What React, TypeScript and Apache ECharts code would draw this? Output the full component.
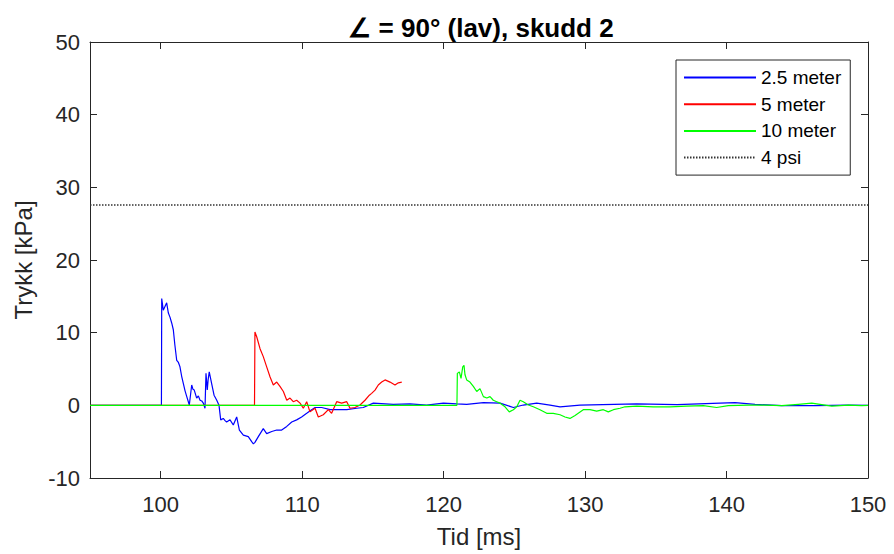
import React, { useEffect, useRef } from "react";
import * as echarts from "echarts";

const xTicks = [100, 110, 120, 130, 140, 150];
const psiLevel = 27.58;

const blue25: number[][] = [
  [95, 0], [100.05, 0], [100.07, 14.7], [100.18, 13.1], [100.3, 13.6], [100.42, 14.1], [100.54, 12.7], [100.66, 12.1],
  [100.78, 11.3], [100.89, 10.4], [101.0, 8.3], [101.13, 6.2], [101.25, 5.9], [101.36, 5.3], [101.48, 4.0], [101.6, 3.0],
  [101.72, 2.0], [101.84, 1.2], [102.02, 0.04], [102.19, 2.8], [102.28, 2.2], [102.37, 2.1], [102.54, 1.0], [102.66, 1.3],
  [102.78, 0.7], [102.9, 0.6], [103.01, 0.3], [103.13, -0.4], [103.2, 4.4], [103.29, 2.1], [103.35, 3.5], [103.43, 4.6],
  [103.6, 3.0], [103.77, 1.4], [103.96, 0.7], [104.12, 0], [104.24, -2.0], [104.42, -1.8], [104.55, -2.1], [104.66, -2.3],
  [104.9, -2.0], [105.13, -2.7], [105.37, -1.6], [105.56, -3.4], [105.84, -4.1], [106.19, -4.3], [106.43, -5.0],
  [106.55, -5.3], [106.66, -5.1], [106.9, -4.3], [107.25, -3.2], [107.49, -3.9], [107.85, -3.6], [108.2, -3.4],
  [108.55, -3.4], [108.91, -2.9], [109.26, -2.3], [109.61, -2.0], [109.96, -1.6], [110.32, -1.1], [110.67, -0.6],
  [110.91, -0.3], [111.38, -0.3], [111.97, -0.6], [112.44, -0.6], [113.15, -0.6], [113.85, -0.4], [114.32, -0.3],
  [115.03, 0.3], [116.44, 0.14], [117.62, 0.2], [118.8, 0.04], [119.98, 0.3], [120.93, 0.2], [121.63, 0.14],
  [122.81, 0.36], [123.99, 0.3], [124.93, -0.3], [125.63, 0.04], [126.58, 0.3], [127.52, 0.04], [128.23, -0.2],
  [129.64, 0.04], [133.65, 0.2], [136.5, 0.1], [139.54, 0.3], [140.6, 0.36], [142.01, 0.14], [143.9, -0.05],
  [146.26, -0.05], [148.61, 0.04], [150, 0],
];

const red5: number[][] = [
  [95, 0], [106.63, 0], [106.66, 10.1], [106.79, 9.4], [107.02, 7.8], [107.25, 6.7], [107.49, 5.3], [107.73, 3.9],
  [107.96, 2.8], [108.2, 3.2], [108.43, 2.6], [108.67, 1.9], [108.91, 0.7], [109.14, 1.0], [109.37, 0.5], [109.61, 0.7],
  [109.85, 0.3], [110.08, -0.4], [110.32, 0.5], [110.55, -0.9], [110.91, -0.4], [111.14, -1.6], [111.49, -1.3],
  [111.85, -0.6], [112.08, -1.1], [112.44, 0.5], [112.79, 0.3], [113.15, 0.5], [113.38, -0.4], [113.73, -0.3],
  [114.09, 0.04], [114.44, 0.7], [114.75, 1.4], [114.91, 1.65], [115.15, 2.1], [115.38, 2.8], [115.62, 3.2],
  [115.86, 3.5], [116.21, 3.2], [116.56, 2.8], [116.8, 3.1], [117.04, 3.2],
];

const green10: number[][] = [
  [95, 0], [120.94, 0], [120.97, 4.4], [121.11, 4.6], [121.23, 3.7], [121.35, 5.3], [121.44, 5.5], [121.51, 4.2],
  [121.63, 3.5], [121.86, 3.2], [122.1, 2.6], [122.34, 1.9], [122.57, 2.3], [122.81, 1.2], [123.05, 1.0], [123.28, 1.2],
  [123.51, 0.7], [123.75, 0.5], [123.99, 0.3], [124.34, -0.2], [124.64, -0.9], [124.93, -0.6], [125.17, -0.2],
  [125.4, 0.7], [125.63, 0.5], [125.99, 0.04], [126.34, -0.2], [126.81, -0.6], [127.29, -1.1], [127.75, -1.1],
  [128.23, -1.3], [128.58, -1.6], [128.93, -1.8], [129.29, -1.4], [129.87, -0.6], [130.35, -0.6], [130.82, -0.8],
  [131.29, -0.6], [131.64, -0.9], [132.0, -0.6], [132.47, -0.4], [132.82, -0.2], [133.65, -0.1], [134.82, -0.2],
  [136.0, -0.2], [137.18, -0.1], [138.36, -0.05], [139.3, -0.3], [140.12, -0.05], [141.54, 0.04], [142.72, 0.04],
  [143.9, -0.05], [145.07, 0.14], [146.02, 0.3], [147.44, -0.1], [148.61, 0.04], [149.56, -0.05], [150, 0],
];

const psiLine: number[][] = [[95, psiLevel], [150, psiLevel]];

const FONT = "'Liberation Sans', Arial, Helvetica, sans-serif";
const AX = "#262626";

export default function App() {
  const ref = useRef<HTMLDivElement>(null);
  useEffect(() => {
    document.body.style.margin = "0";
    const chart = echarts.init(ref.current!, null, { renderer: "svg" });
    const axisCommon = {
      type: "value" as const,
      axisLine: { show: true, onZero: false, lineStyle: { color: AX, width: 1 } },
      splitLine: { show: false },
    };
    const tick = { show: true, inside: true, length: 7, lineStyle: { color: AX } };
    chart.setOption({
      animation: false,
      backgroundColor: "#fff",
      textStyle: { fontFamily: FONT },
      title: {
        text: "∠ = 90° (lav), skudd 2",
        left: 476,
        top: 10,
        textAlign: "center",
        textStyle: { fontSize: 26, fontWeight: "bold", color: "#000", fontFamily: FONT },
      },
      grid: { left: 90, right: 26, top: 42, bottom: 76, containLabel: false },
      legend: {
        orient: "vertical",
        left: 676,
        top: 60,
        padding: [8, 9, 8, 7],
        itemWidth: 72,
        itemHeight: 18,
        itemGap: 7.7,
        backgroundColor: "#fff",
        borderColor: AX,
        borderWidth: 1,
        itemStyle: { opacity: 0 },
        textStyle: { fontSize: 19, lineHeight: 18, color: "#000", fontFamily: FONT },
        data: ["2.5 meter", "5 meter", "10 meter", "4 psi"],
      },
      xAxis: [
        {
          ...axisCommon,
          min: 95,
          max: 150,
          position: "bottom",
          axisTick: { ...tick, customValues: xTicks },
          axisLabel: { show: true, customValues: xTicks, fontSize: 22, color: AX, margin: 15, fontFamily: FONT },
          name: "Tid [ms]",
          nameLocation: "middle",
          nameGap: 46,
          nameTextStyle: { fontSize: 24, color: AX, fontFamily: FONT },
        },
        {
          ...axisCommon,
          min: 95,
          max: 150,
          position: "top",
          axisTick: { ...tick, customValues: xTicks },
          axisLabel: { show: false },
        },
      ],
      yAxis: [
        {
          ...axisCommon,
          min: -10,
          max: 50,
          interval: 10,
          position: "left",
          axisTick: tick,
          axisLabel: { show: true, fontSize: 22, color: AX, margin: 10, fontFamily: FONT },
          name: "Trykk [kPa]",
          nameLocation: "middle",
          nameGap: 55,
          nameTextStyle: { fontSize: 24, color: AX, fontFamily: FONT },
        },
        {
          ...axisCommon,
          min: -10,
          max: 50,
          interval: 10,
          position: "right",
          axisTick: tick,
          axisLabel: { show: false },
        },
      ],
      series: [
        {
          name: "2.5 meter",
          type: "line",
          data: blue25,
          showSymbol: false,
          symbol: "none",
          lineStyle: { color: "#0000ff", width: 1.2 },
          itemStyle: { color: "#0000ff" },
        },
        {
          name: "5 meter",
          type: "line",
          data: red5,
          showSymbol: false,
          symbol: "none",
          lineStyle: { color: "#ff0000", width: 1.2 },
          itemStyle: { color: "#ff0000" },
        },
        {
          name: "10 meter",
          type: "line",
          data: green10,
          showSymbol: false,
          symbol: "none",
          lineStyle: { color: "#00ff00", width: 1.2 },
          itemStyle: { color: "#00ff00" },
        },
        {
          name: "4 psi",
          type: "line",
          data: psiLine,
          showSymbol: false,
          symbol: "none",
          lineStyle: { color: "#333333", width: 1.5, type: [1.5, 1.5] },
          itemStyle: { color: "#333333" },
        },
      ],
    });
    return () => chart.dispose();
  }, []);
  return <div ref={ref} style={{ width: 894, height: 554 }} />;
}
